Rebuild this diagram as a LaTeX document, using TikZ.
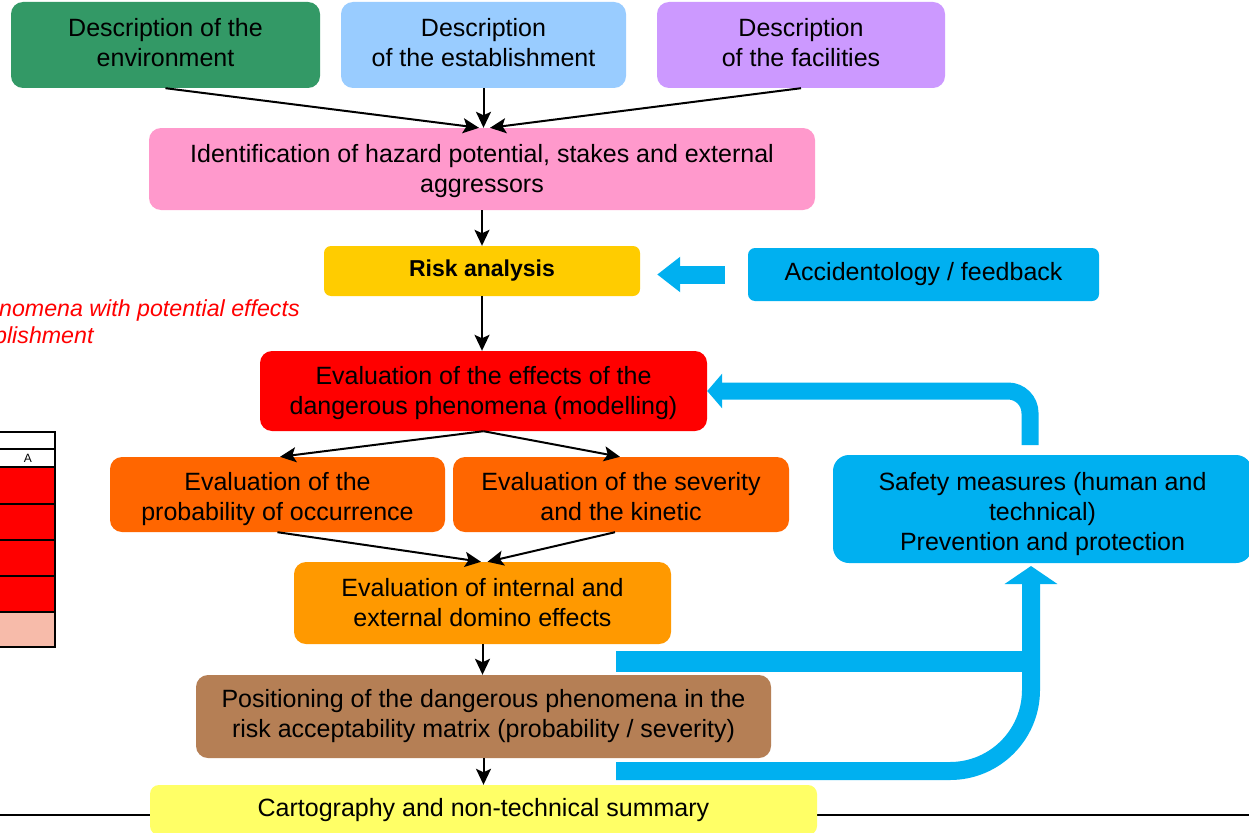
\documentclass[tikz,border=0pt]{standalone}
\usepackage{fontspec}
\setmainfont{Liberation Sans}
\usetikzlibrary{arrows.meta,calc}
\definecolor{cgreen}{HTML}{339966}
\definecolor{clblue}{HTML}{99CCFF}
\definecolor{cpurple}{HTML}{CC99FF}
\definecolor{cpink}{HTML}{FF99CC}
\definecolor{cgold}{HTML}{FFCC00}
\definecolor{ccyan}{HTML}{00B0F0}
\definecolor{cred}{HTML}{FF0000}
\definecolor{corange}{HTML}{FF6600}
\definecolor{camber}{HTML}{FF9900}
\definecolor{cbrown}{HTML}{B57F55}
\definecolor{cyellow}{HTML}{FFFF66}
\definecolor{csalmon}{HTML}{F7BBAA}
\tikzset{
  box/.style={rounded corners=12pt, draw=none, align=center, inner sep=0pt,
    font=\fontsize{25}{30}\selectfont},
  arr/.style={line width=2pt, -{Stealth[length=16pt,width=15pt,inset=3.5pt]}},
  bluearrow/.style={draw=ccyan, line width=18pt},
  tbl/.style={line width=2pt, draw=black},
  redtxt/.style={anchor=west, inner sep=0pt, text=cred, font=\fontsize{23.2}{28}\selectfont\itshape},
}
\begin{document}
\begin{tikzpicture}[x=1pt,y=-1pt]
\useasboundingbox (0,0) rectangle (1249,832);
\fill[white] (0,0) rectangle (1249,832);

% bottom horizontal rule
\coordinate (hl1) at (0,815);
\coordinate (hl2) at (1249,815);
\draw[line width=2pt] (hl1) -- (hl2);

% nodes
\node[box, fill=cgreen, minimum width=309, minimum height=86, text depth=6pt] (env) at (165.5,45) {Description of the\\environment};
\node[box, fill=clblue, minimum width=285, minimum height=86, text depth=6pt] (estab) at (483.5,45) {Description\\of the establishment};
\node[box, fill=cpurple, minimum width=288, minimum height=86, text depth=6pt] (fac) at (801,45) {Description\\of the facilities};
\node[box, fill=cpink, minimum width=666, minimum height=82, text height=52pt] (pink) at (482,169) {Identification of hazard potential, stakes and external\\aggressors};
\node[box, fill=cgold, minimum width=316, minimum height=50, rounded corners=7pt, font=\fontsize{23}{28}\selectfont\bfseries] (risk) at (482,271) {Risk analysis};
\node[box, fill=ccyan, minimum width=351, minimum height=53, rounded corners=7pt] (acc) at (923.5,274.5) {Accidentology / feedback};
\node[box, fill=cred, minimum width=447, minimum height=80, text height=52pt] (red) at (483.5,391) {Evaluation of the effects of the\\dangerous phenomena (modelling)};
\node[box, fill=corange, minimum width=335, minimum height=75, text height=58pt, text depth=5.5pt] (ol) at (277.5,494.5) {Evaluation of the\\probability of occurrence};
\node[box, fill=corange, minimum width=336, minimum height=75, text height=58pt, text depth=5.5pt] (or) at (621,494.5) {Evaluation of the severity\\and the kinetic};
\node[box, fill=camber, minimum width=377, minimum height=82] (dom) at (482.5,603) {Evaluation of internal and\\external domino effects};
\node[box, fill=cbrown, minimum width=575, minimum height=83] (brown) at (483.5,716.5) {Positioning of the dangerous phenomena in the\\risk acceptability matrix (probability / severity)};
\node[box, fill=cyellow, minimum width=667, minimum height=50, rounded corners=9pt] (carto) at (483.5,810) {Cartography and non-technical summary};
\node[box, fill=ccyan, minimum width=419, minimum height=108, rounded corners=16pt, text height=87.5pt] (safety) at (1042.5,509) {Safety measures (human and\\technical)\\Prevention and protection};

% red italic text (cut at left edge)
\node[redtxt] (t1) at (-1,310) {nomena with potential effects};
\node[redtxt] (t2) at (-6,335) {blishment};

% partial table at left
\fill[white] (-2,432) rectangle (55,467);
\fill[cred] (-2,467) rectangle (55,612);
\fill[csalmon] (-2,612) rectangle (55,647);
\foreach \yy in {432,449,467,504,540,576,612,647} {
  \draw[tbl] (-2,\yy) -- (55,\yy);
}
\draw[tbl] (55,431) -- (55,648);
\node[inner sep=0pt, font=\fontsize{12}{14}\selectfont] (ta) at (28,458) {A};

% black arrows
\draw[arr] (env.south) -- ([xshift=-3pt]pink.north);
\draw[arr] (estab.south) -- (estab.south |- pink.north);
\draw[arr] (fac.south) -- ([xshift=8pt]pink.north);
\draw[arr] (pink.south) -- (risk.north);
\draw[arr] (risk.south) -- (risk.south |- red.north);
\draw[arr] (red.south) -- ([xshift=2.5pt]ol.north);
\draw[arr] (red.south) -- ([xshift=-1pt]or.north);
\draw[arr] (ol.south) -- ([xshift=-1.5pt]dom.north);
\draw[arr] ([xshift=-6pt]or.south) -- ([xshift=5pt]dom.north);
\draw[arr] (dom.south) -- (dom.south |- brown.north);
\draw[arr] (brown.south) -- (carto.north);

% blue arrows
\coordinate (a1) at ($(acc.west)+(-23,0)$);
\draw[bluearrow, -{Triangle[length=23pt,width=34pt]}] (a1) -- ($(a1 -| risk.east)+(17,0)$);

\coordinate (sf) at (1030,445);
\draw[bluearrow, line width=17pt, rounded corners=22pt, -{Triangle[length=15pt,width=34pt]}] (sf) |- (red.east);

\coordinate (b1) at (616,661.5);
\coordinate (vx) at (1031,566);
\draw[bluearrow, line width=21pt] (b1) -- ($(b1 -| vx)+(9,0)$);
\coordinate (b2) at (616,771);
\draw[bluearrow, rounded corners=81pt, -{Triangle[length=18pt,width=52pt]}] (b2) -| (vx);
\end{tikzpicture}
\end{document}
